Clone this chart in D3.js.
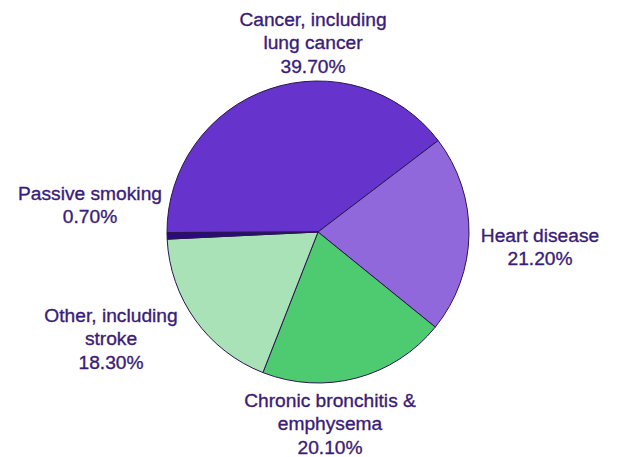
<!DOCTYPE html>
<html>
<head>
<meta charset="utf-8">
<script src="https://cdn.jsdelivr.net/npm/d3@7"></script>
<style>
  html, body { margin: 0; padding: 0; background: #ffffff; }
  svg { display: block; }
  text { font-family: "Liberation Sans", Arial, Helvetica, sans-serif; }
</style>
</head>
<body>
<svg id="chart" width="618" height="457"></svg>
<script>
// Causes of smoking-related deaths (share of total)
const categories = ["Cancer, including lung cancer", "Heart disease", "Chronic bronchitis & emphysema", "Other, including stroke", "Passive smoking"];
const values = [39.7, 21.2, 20.1, 18.3, 0.7];
const labelLines = [
  ["Cancer, including", "lung cancer"],
  ["Heart disease"],
  ["Chronic bronchitis &", "emphysema"],
  ["Other, including", "stroke"],
  ["Passive smoking"]
];
const colors = ["#6634cc", "#9168dc", "#4ecb70", "#a8e2b6", "#2c0a7c"];

const width = 618, height = 457;
const cx = 318, cy = 232, radius = 151;

const svg = d3.select("#chart");
const g = svg.append("g").attr("transform", `translate(${cx},${cy})`);

// Cancer slice begins just past 9 o'clock and runs clockwise
const startDeg = -90.2;
const pie = d3.pie()
  .sort(null)
  .value(d => d)
  .startAngle(startDeg * Math.PI / 180)
  .endAngle((startDeg + 360) * Math.PI / 180);

const arc = d3.arc().innerRadius(0).outerRadius(radius);
const arcs = pie(values);

g.selectAll("path.slice")
  .data(arcs)
  .join("path")
  .attr("class", "slice")
  .attr("d", arc)
  .attr("fill", (d, i) => colors[i])
  .attr("stroke", "#2a1650")
  .attr("stroke-width", 1)
  .attr("stroke-linejoin", "round");

// Label anchor positions (centre of the first line) for each slice
const labelPos = [
  [313, 19],
  [540, 235],
  [330, 400],
  [111, 315],
  [90, 193]
];
const lineH = 23.7;

const labels = svg.selectAll("g.label")
  .data(arcs)
  .join("g")
  .attr("class", "label")
  .attr("transform", (d, i) => `translate(${labelPos[i][0]},${labelPos[i][1]})`);

labels.each(function(d, i) {
  const lines = labelLines[i].concat([d3.format(".2f")(values[i]) + "%"]);
  d3.select(this).selectAll("text")
    .data(lines)
    .join("text")
    .attr("x", 0)
    .attr("y", (t, j) => j * lineH)
    .attr("dy", "0.35em")
    .attr("text-anchor", "middle")
    .attr("font-size", 19.2)
    .attr("fill", "#3a1c78")
    .attr("stroke", "#3a1c78")
    .attr("stroke-width", 0.35)
    .text(t => t);
});
</script>
</body>
</html>
